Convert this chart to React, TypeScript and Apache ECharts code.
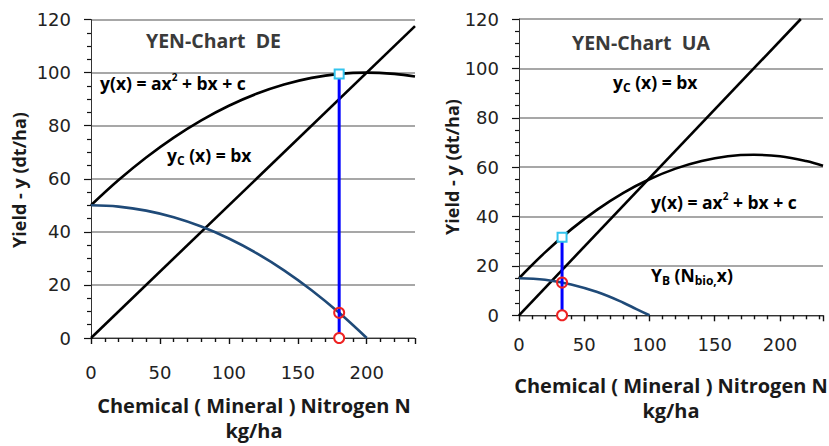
import React, { useEffect, useRef } from 'react';
import * as echarts from 'echarts';

// ---------- Data ----------
// Left panel: YEN-Chart DE
const xYieldDE = [0, 20, 40, 60, 80, 100, 120, 140, 160, 180, 200, 220, 235];
const yYieldDE = [50, 59.5, 68, 75.5, 82, 87.5, 92, 95.5, 98, 99.5, 100, 99.5, 98.5];
const xBioDE = [0, 20, 40, 60, 80, 100, 120, 140, 160, 180, 200];
const yBioDE = [50, 49.5, 48, 45.5, 42, 37.5, 32, 25.5, 18, 9.5, 0];
const xChemDE = [0, 235];
const yChemDE = [0, 117.5];
const optNDE = 180;
const optYieldDE = 99.5;
const optBioDE = 9.5;

// Right panel: YEN-Chart UA
const xYieldUA = [0, 20, 40, 60, 80, 100, 120, 140, 160, 180, 200, 220, 233];
const yYieldUA = [15, 25.5, 34.8, 42.8, 49.6, 55.1, 59.4, 62.5, 64.4, 65, 64.4, 62.5, 60.6];
const xBioUA = [0, 20, 40, 60, 80, 90, 100];
const yBioUA = [15, 14.4, 12.5, 9.4, 5.1, 2.5, 0];
const xChemUA = [0, 216];
const yChemUA = [0, 120];
const optNUA = 33;
const optYieldUA = 31.6;
const optBioUA = 13.3;

const yTicks = [0, 20, 40, 60, 80, 100, 120];
const xLabelStep = 50;
const xName = 'Chemical ( Mineral ) Nitrogen N\nkg/ha';
const yName = 'Yield - y (dt/ha)';

const pairs = (xs: number[], ys: number[]) => xs.map((x, i) => [x, ys[i]]);

const AX_FONT = 'DejaVu Sans';
const B_FONT = 'Open Sans';

function mkX(gridIndex: number, max: number, margin: number) {
  return {
    type: 'value',
    gridIndex,
    min: 0,
    max,
    interval: xLabelStep,
    axisLine: { show: true, onZero: false, lineStyle: { color: '#333', width: 1 } },
    axisTick: { show: true, length: 6, lineStyle: { color: '#111', width: 1.4 } },
    minorTick: { show: true, splitNumber: 5, length: 4, lineStyle: { color: '#111', width: 1.4 } },
    axisLabel: {
      fontFamily: AX_FONT,
      fontSize: 18,
      color: '#222',
      margin,
      formatter: (v: number) => (v % xLabelStep === 0 ? String(v) : ''),
    },
    splitLine: { show: true, lineStyle: { color: 'rgba(0,0,0,0)', width: 0 } },
  };
}

function mkY(gridIndex: number) {
  return {
    type: 'value',
    gridIndex,
    min: yTicks[0],
    max: yTicks[yTicks.length - 1],
    interval: yTicks[1] - yTicks[0],
    axisLine: { show: true, lineStyle: { color: '#333', width: 1 } },
    axisTick: { show: true, length: 7, lineStyle: { color: '#111', width: 1.2 } },
    minorTick: { show: true, splitNumber: 4, length: 4, lineStyle: { color: '#111', width: 1.2 } },
    axisLabel: { fontFamily: AX_FONT, fontSize: 18, color: '#222', margin: 20 },
    splitLine: { show: true, lineStyle: { color: '#8a8a8a', width: 1.6 } },
  };
}

function curve(name: string, idx: number, data: number[][], color: string, width: number, z = 3) {
  return {
    name,
    type: 'line',
    xAxisIndex: idx,
    yAxisIndex: idx,
    data,
    smooth: 0.4,
    symbol: 'none',
    lineStyle: { color, width },
    z,
  };
}

function marker(idx: number, data: number[][], symbol: string, border: string, fill: string, size: number) {
  return {
    type: 'scatter',
    xAxisIndex: idx,
    yAxisIndex: idx,
    data,
    symbol,
    symbolSize: size,
    itemStyle: { color: fill, borderColor: border, borderWidth: 2, opacity: 1 },
    z: 9,
  };
}

const eqRich = {
  n: { fontFamily: B_FONT, fontWeight: 'bold', fontSize: 17.5, fill: '#000', lineHeight: 22 },
  sup: { fontFamily: B_FONT, fontWeight: 'bold', fontSize: 10, fill: '#000', lineHeight: 22, verticalAlign: 'top' },
  sub: { fontFamily: B_FONT, fontWeight: 'bold', fontSize: 12, fill: '#000', lineHeight: 22, verticalAlign: 'bottom' },
};

function eqText(x: number, y: number, text: string) {
  return {
    type: 'text',
    x,
    y,
    z: 10,
    style: { text, rich: eqRich, textAlign: 'left', textVerticalAlign: 'middle' },
  };
}

function titleText(x: number, y: number, text: string) {
  return {
    type: 'text',
    x,
    y,
    z: 10,
    style: {
      text,
      fontFamily: B_FONT,
      fontWeight: 'bold',
      fontSize: 19.5,
      fill: '#3a3a3a',
      textAlign: 'left',
      textVerticalAlign: 'middle',
    },
  };
}

function xNameText(x: number, y: number) {
  return {
    type: 'text',
    x,
    y,
    z: 10,
    style: {
      text: xName,
      fontFamily: B_FONT,
      fontWeight: 'bold',
      fontSize: 20,
      lineHeight: 25,
      fill: '#1a1a1a',
      textAlign: 'center',
      textVerticalAlign: 'middle',
    },
  };
}

function yNameText(x: number, y: number) {
  return {
    type: 'text',
    x,
    y,
    rotation: Math.PI / 2,
    z: 10,
    style: {
      text: yName,
      fontFamily: B_FONT,
      fontWeight: 'bold',
      fontSize: 18,
      fill: '#1a1a1a',
      textAlign: 'center',
      textVerticalAlign: 'middle',
    },
  };
}

export default function App() {
  const ref = useRef<HTMLDivElement>(null);
  useEffect(() => {
    if (!ref.current) return;
    const chart = echarts.init(ref.current, undefined, { renderer: 'svg' });
    chart.setOption({
      animation: false,
      backgroundColor: '#ffffff',
      grid: [
        { left: 91, top: 19.5, width: 324, height: 318.5 },
        { left: 519, top: 19, width: 304, height: 296.3 },
      ],
      xAxis: [mkX(0, 235, 25), mkX(1, 233, 20)],
      yAxis: [mkY(0), mkY(1)],
      series: [
        curve('yield DE', 0, pairs(xYieldDE, yYieldDE), '#000', 2.6),
        curve('chem DE', 0, pairs(xChemDE, yChemDE), '#000', 2.6),
        curve('bio DE', 0, pairs(xBioDE, yBioDE), '#1f4a78', 2.6),
        curve('opt DE', 0, [[optNDE, 0], [optNDE, optYieldDE]], '#0000ff', 3, 5),
        marker(0, [[optNDE, optYieldDE]], 'rect', '#33c4ee', '#ffffff', 9),
        marker(0, [[optNDE, optBioDE]], 'circle', '#ee2222', 'rgba(255,255,255,0)', 10),
        marker(0, [[optNDE, 0]], 'circle', '#ee2222', '#ffffff', 10),

        curve('yield UA', 1, pairs(xYieldUA, yYieldUA), '#000', 2.6),
        curve('chem UA', 1, pairs(xChemUA, yChemUA), '#000', 2.6),
        curve('bio UA', 1, pairs(xBioUA, yBioUA), '#1f4a78', 2.6),
        curve('opt UA', 1, [[optNUA, 0], [optNUA, optYieldUA]], '#0000ff', 3, 5),
        marker(1, [[optNUA, optYieldUA]], 'rect', '#33c4ee', '#ffffff', 9),
        marker(1, [[optNUA, optBioUA]], 'circle', '#ee2222', 'rgba(255,255,255,0)', 10),
        marker(1, [[optNUA, 0]], 'circle', '#ee2222', '#ffffff', 10),
      ],
      graphic: [
        titleText(146, 40, 'YEN-Chart  DE'),
        eqText(100, 83, '{n|y(x) = ax}{sup|2}{n| + bx + c}'),
        eqText(167, 155, '{n|y}{sub|C}{n| (x) = bx}'),
        titleText(572, 42, 'YEN-Chart  UA'),
        eqText(613, 82, '{n|y}{sub|C}{n| (x) = bx}'),
        eqText(651, 202, '{n|y(x) = ax}{sup|2}{n| + bx + c}'),
        eqText(651, 275, '{n|Y}{sub|B}{n| (N}{sub|bio,}{n|x)}'),
        xNameText(254, 417.5),
        xNameText(671, 397.5),
        yNameText(19, 180),
        yNameText(452, 167),
      ],
    });
    return () => chart.dispose();
  }, []);
  return (
    <div
      ref={ref}
      style={{ position: 'fixed', left: 0, top: 0, width: 829, height: 446, background: '#fff' }}
    />
  );
}
